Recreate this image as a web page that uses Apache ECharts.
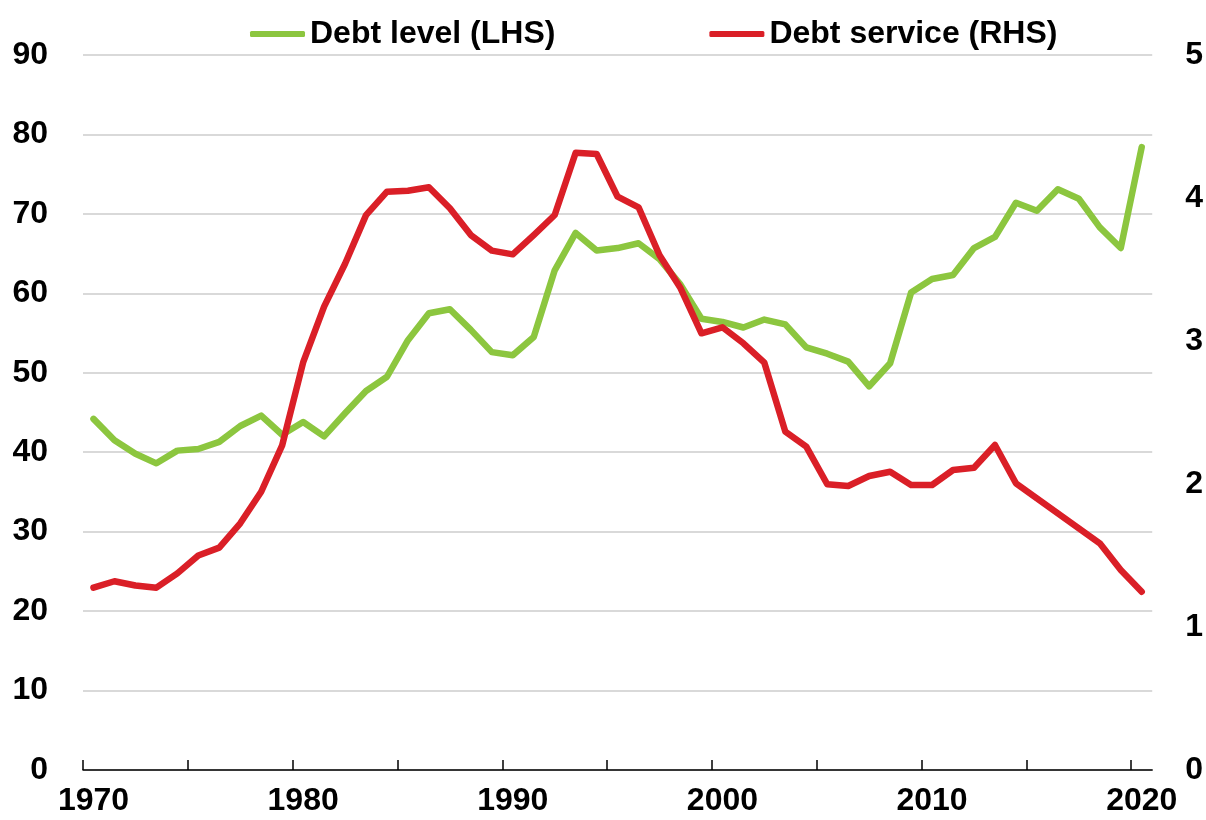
<!DOCTYPE html>
<html>
<head>
<meta charset="utf-8">
<script src="https://cdn.jsdelivr.net/npm/echarts@6/dist/echarts.min.js"></script>
<style>
  html, body { margin: 0; padding: 0; background: #fff; }
  #chart { width: 1206px; height: 820px; }
</style>
</head>
<body>
<div id="chart"></div>
<script>
// Annual observations, 1970-2020
const years = [
  1970, 1971, 1972, 1973, 1974, 1975, 1976, 1977, 1978, 1979,
  1980, 1981, 1982, 1983, 1984, 1985, 1986, 1987, 1988, 1989,
  1990, 1991, 1992, 1993, 1994, 1995, 1996, 1997, 1998, 1999,
  2000, 2001, 2002, 2003, 2004, 2005, 2006, 2007, 2008, 2009,
  2010, 2011, 2012, 2013, 2014, 2015, 2016, 2017, 2018, 2019,
  2020
];

// Debt level, left-hand scale
const debtLevel = [
  44.2, 41.5, 39.8, 38.6, 40.2, 40.4, 41.3, 43.3, 44.6, 42.2,
  43.8, 42.0, 44.9, 47.7, 49.5, 54.1, 57.5, 58.0, 55.4, 52.6,
  52.2, 54.5, 62.9, 67.6, 65.4, 65.7, 66.3, 64.3, 61.1, 56.8,
  56.4, 55.7, 56.7, 56.1, 53.2, 52.4, 51.4, 48.3, 51.2, 60.1,
  61.8, 62.3, 65.7, 67.1, 71.4, 70.4, 73.1, 71.9, 68.3, 65.7,
  78.4
];

// Debt service, right-hand scale
const debtService = [
  1.275, 1.32, 1.29, 1.275, 1.375, 1.50, 1.555, 1.725, 1.946, 2.27,
  2.85, 3.24, 3.54, 3.88, 4.044, 4.051, 4.075, 3.928, 3.741, 3.632,
  3.606, 3.741, 3.881, 4.317, 4.308, 4.009, 3.935, 3.60, 3.37, 3.054,
  3.096, 2.984, 2.848, 2.366, 2.261, 1.998, 1.986, 2.056, 2.086, 1.993,
  1.993, 2.098, 2.114, 2.273, 2.005, 1.90, 1.795, 1.69, 1.585, 1.399,
  1.247
];

const tickYears = [1970, 1975, 1980, 1985, 1990, 1995, 2000, 2005, 2010, 2015, 2020];
const labelYears = [1970, 1980, 1990, 2000, 2010, 2020];

const leftTicks = { min: 0, max: 90, interval: 10 };
const rightTicks = { min: 0, max: 5, interval: 1 };

// each annual value sits in the middle of its year
const toPairs = (vals) => vals.map((v, i) => [years[i] + 0.5, v]);

const FONT = '"Liberation Sans", Arial, sans-serif';
const FONT_SIZE = 32;
const GREEN = '#8cc63f';
const RED = '#da1f27';

const chart = echarts.init(document.getElementById('chart'), null, { renderer: 'canvas' });

chart.setOption({
  animation: false,
  backgroundColor: '#ffffff',
  textStyle: { fontFamily: FONT },
  legend: {
    left: 245,
    top: 13,
    itemWidth: 55,
    itemHeight: 6,
    itemGap: 154,
    icon: 'roundRect',
    textStyle: { fontFamily: FONT, fontSize: FONT_SIZE, fontWeight: 'bold', color: '#000' },
    data: ['Debt level (LHS)', 'Debt service (RHS)']
  },
  grid: { left: 83, right: 52, top: 55, bottom: 50, containLabel: false },
  xAxis: {
    type: 'value',
    min: 1970,
    max: 2021,
    splitLine: { show: false },
    axisLine: { show: true, onZero: false, lineStyle: { color: '#000', width: 1.5 } },
    axisTick: {
      show: true,
      inside: true,
      length: 10,
      customValues: tickYears,
      lineStyle: { color: '#000', width: 1.5 }
    },
    axisLabel: {
      customValues: labelYears.map(y => y + 0.5),
      formatter: (v) => String(Math.floor(v)),
      margin: 15,
      fontFamily: FONT,
      fontSize: FONT_SIZE,
      fontWeight: 'bold',
      color: '#000'
    }
  },
  yAxis: [
    {
      type: 'value',
      min: leftTicks.min,
      max: leftTicks.max,
      interval: leftTicks.interval,
      axisLine: { show: false },
      axisTick: { show: false },
      splitLine: { show: true, lineStyle: { color: '#cccccc', width: 1.5 } },
      axisLabel: {
        margin: 35,
        fontFamily: FONT,
        fontSize: FONT_SIZE,
        fontWeight: 'bold',
        color: '#000'
      }
    },
    {
      type: 'value',
      position: 'right',
      min: rightTicks.min,
      max: rightTicks.max,
      interval: rightTicks.interval,
      axisLine: { show: false },
      axisTick: { show: false },
      splitLine: { show: false },
      axisLabel: {
        margin: 33,
        fontFamily: FONT,
        fontSize: FONT_SIZE,
        fontWeight: 'bold',
        color: '#000'
      }
    }
  ],
  series: [
    {
      name: 'Debt level (LHS)',
      type: 'line',
      yAxisIndex: 0,
      data: toPairs(debtLevel),
      showSymbol: false,
      symbol: 'none',
      color: GREEN,
      lineStyle: { color: GREEN, width: 6.5, cap: 'round', join: 'round' },
      z: 2
    },
    {
      name: 'Debt service (RHS)',
      type: 'line',
      yAxisIndex: 1,
      data: toPairs(debtService),
      showSymbol: false,
      symbol: 'none',
      color: RED,
      lineStyle: { color: RED, width: 6.5, cap: 'round', join: 'round' },
      z: 3
    }
  ]
});
</script>
</body>
</html>
